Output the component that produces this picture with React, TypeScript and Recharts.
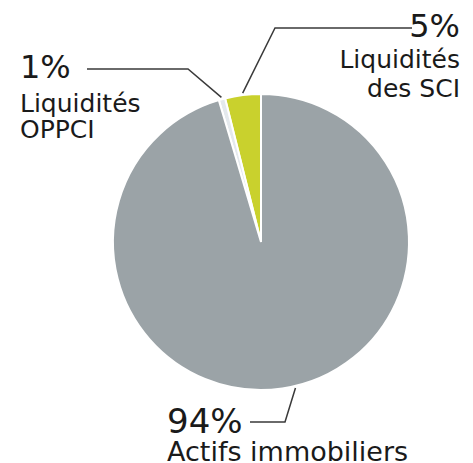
import React from 'react'
import { PieChart, Pie, Cell } from 'recharts'

const categories = ['Liquidités des SCI', 'Liquidités OPPCI', 'Actifs immobiliers']
const shares = [3.9, 0.7, 95.4]
const percentLabels = ['5%', '1%', '94%']
const captionLines = [['Liquidités', 'des SCI'], ['Liquidités', 'OPPCI'], ['Actifs immobiliers']]
const colors = ['#c9d12d', '#e4e9ed', '#9ba3a7']

const data = categories.map((name, i) => ({ name, value: shares[i] }))

// label placement, relative to the pie centre
const labelLayout = [
  { shift: 0, elbow: [14, -214], end: [151, -214], textX: 199, anchor: 'end', pctY: -205, capY: [-174, -145] },
  { shift: 0, elbow: [-73, -173], end: [-174, -173], textX: -241, anchor: 'start', pctY: -164, capY: [-130, -104] },
  { shift: 5, elbow: [24, 180], end: [-11, 180], textX: -94, anchor: 'start', pctY: 191, capY: [219] },
]

const RAD = Math.PI / 180
const font = '"DejaVu Sans", sans-serif'

const renderLabel = (props: any) => {
  const { cx, cy, midAngle, outerRadius, index } = props
  const l = labelLayout[index]
  const a = (midAngle + l.shift) * RAD
  const r = outerRadius + 2
  const sx = cx + r * Math.cos(a)
  const sy = cy - r * Math.sin(a)
  const pts = `${sx},${sy} ${cx + l.elbow[0]},${cy + l.elbow[1]} ${cx + l.end[0]},${cy + l.end[1]}`
  return (
    <g key={`lbl-${index}`}>
      <polyline points={pts} fill="none" stroke="#3a3a3a" strokeWidth={1.5} />
      <text x={cx + l.textX} y={cy + l.pctY} textAnchor={l.anchor} fontFamily={font} fontSize={index === 2 ? 34 : 32} fill="#1a1a1a">
        {percentLabels[index]}
      </text>
      {captionLines[index].map((line, j) => (
        <text key={j} x={cx + l.textX} y={cy + l.capY[j]} textAnchor={l.anchor} fontFamily={font} fontSize={index === 2 ? 27 : 25} fill="#1a1a1a">
          {line}
        </text>
      ))}
    </g>
  )
}

export default function App() {
  return (
    <div style={{ position: 'absolute', left: 0, top: 0 }}>
      <PieChart width={473} height={463} margin={{ top: 0, right: 0, bottom: 0, left: 0 }}>
        <Pie
          data={data}
          dataKey="value"
          nameKey="name"
          cx={261}
          cy={242}
          outerRadius={148}
          startAngle={90}
          endAngle={450}
          stroke="#ffffff"
          strokeWidth={2}
          label={renderLabel}
          labelLine={false}
          isAnimationActive={false}
        >
          {data.map((d, i) => (
            <Cell key={d.name} fill={colors[i]} />
          ))}
        </Pie>
      </PieChart>
    </div>
  )
}
